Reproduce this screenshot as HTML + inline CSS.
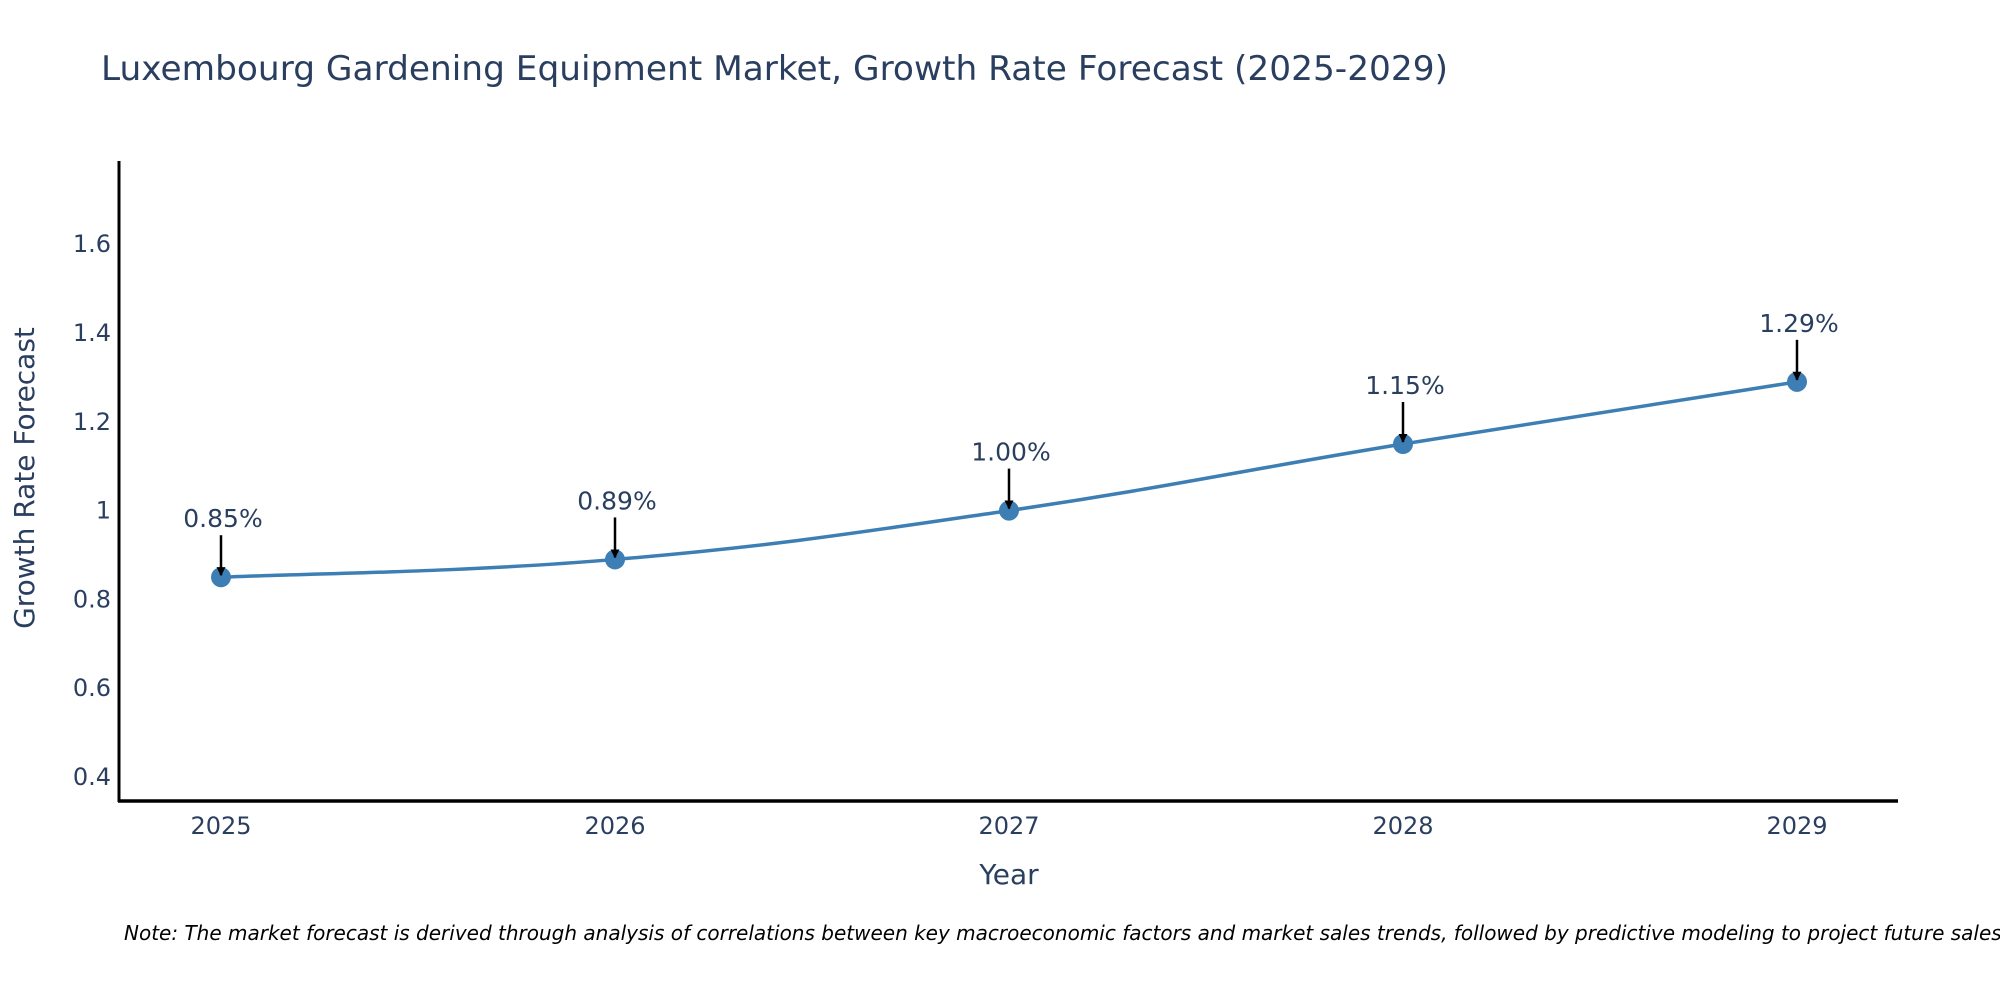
<!DOCTYPE html>
<html><head><meta charset="utf-8"><style>
html,body{margin:0;padding:0;background:#fff;}
svg{display:block;font-family:"DejaVu Sans","Liberation Sans",sans-serif;}
</style></head><body>
<svg id="chart" width="2000" height="1000" viewBox="0 0 2000 1000">
<defs><marker id="ah" viewBox="0 0 10 10" refX="9" refY="5" markerWidth="3.6" markerHeight="3.6" orient="auto"><path d="M0,0 L10,5 L0,10 z" fill="#000"/></marker></defs>
<text x="101" y="80" font-size="34" fill="#2a3f5f" textLength="1347" lengthAdjust="spacingAndGlyphs">Luxembourg Gardening Equipment Market, Growth Rate Forecast (2025-2029)</text>
<g id="yticks"></g>
<g id="xticks"></g>
<line x1="119" y1="161" x2="119" y2="802" stroke="#000" stroke-width="3"/>
<line x1="118" y1="801" x2="1898" y2="801" stroke="#000" stroke-width="3.5"/>
<text transform="translate(34,478) rotate(-90)" text-anchor="middle" font-size="28" fill="#2a3f5f">Growth Rate Forecast</text>
<text x="1009" y="884" text-anchor="middle" font-size="28" fill="#2a3f5f">Year</text>
<path id="line" fill="none" stroke="#3d7fb4" stroke-width="3.5"/>
<g id="pts"></g>
<text x="124" y="940" font-size="20" font-style="italic" fill="#000">Note: The market forecast is derived through analysis of correlations between key macroeconomic factors and market sales trends, followed by predictive modeling to project future sales.</text>
</svg>
<script>
const years = ["2025","2026","2027","2028","2029"];
const values = [0.85, 0.89, 1.00, 1.15, 1.29];
const labels = ["0.85%","0.89%","1.00%","1.15%","1.29%"];
const yTicks = [0.4, 0.6, 0.8, 1, 1.2, 1.4, 1.6];
const NS = "http://www.w3.org/2000/svg";
function xs(i){ return 221 + i*394; }
function ys(v){ return 777 - (v-0.4)/0.2*88.8; }
function mk(tag, attrs, parent){ const e=document.createElementNS(NS,tag); for(const k in attrs) e.setAttribute(k,attrs[k]); parent.appendChild(e); return e; }
const yg=document.getElementById('yticks');
yTicks.forEach(t=>{
  const e=mk('text',{x:111,y:ys(t)+8,'text-anchor':'end','font-size':24,fill:'#2a3f5f'},yg);
  
  
  e.textContent=String(t);
});
const xg=document.getElementById('xticks');
years.forEach((y,i)=>{
  const e=mk('text',{x:xs(i),y:834,'text-anchor':'middle','font-size':24,fill:'#2a3f5f'},xg);
  
  
  e.textContent=y;
});
const P=values.map((v,i)=>[xs(i),ys(v)]);
let d="M"+P[0][0]+","+P[0][1];
for(let i=0;i<P.length-1;i++){
  const p0=P[Math.max(0,i-1)],p1=P[i],p2=P[i+1],p3=P[Math.min(P.length-1,i+2)];
  const s=0.2;
  const c1=[p1[0]+(p2[0]-p0[0])*s,p1[1]+(p2[1]-p0[1])*s];
  const c2=[p2[0]-(p3[0]-p1[0])*s,p2[1]-(p3[1]-p1[1])*s];
  d+=" C"+c1+" "+c2+" "+p2;
}
document.getElementById('line').setAttribute('d',d);
const pg=document.getElementById('pts');
P.forEach((p,i)=>{
  const c=mk('circle',{cx:p[0],cy:p[1],r:10,fill:'#3d7fb4'},pg);
  
  
  const a=mk('line',{x1:p[0],y1:p[1]-42,x2:p[0],y2:p[1]-2,stroke:'#000','stroke-width':2.5,'marker-end':'url(#ah)'},pg);
  
  
  const t=mk('text',{x:p[0]+2,y:p[1]-50,'text-anchor':'middle','font-size':25,fill:'#2a3f5f'},pg);
  
  
  t.textContent=labels[i];
});
</script>
</body></html>
